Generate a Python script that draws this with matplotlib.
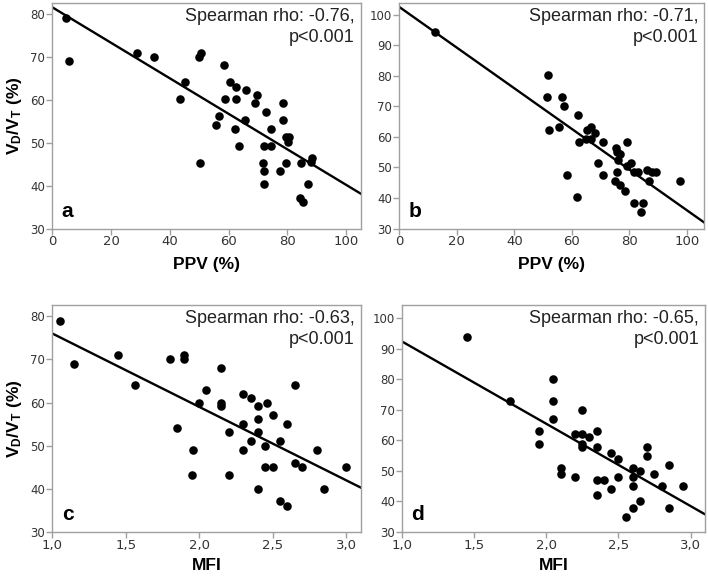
import numpy as np
import matplotlib
matplotlib.use('Agg')
import matplotlib.pyplot as plt
from matplotlib.ticker import FuncFormatter

plt.rcParams['mathtext.fontset'] = 'custom'
plt.rcParams['mathtext.bf'] = 'Liberation Sans:bold'
plt.rcParams['mathtext.rm'] = 'Liberation Sans'

# panel a: PPV vs VD/VT
ppv_a = [4.6, 5.7, 28.7, 34.7, 49.8, 50.6, 45.3, 43.6, 58.6, 60.5, 62.4, 58.8, 62.4, 65.9,
         69.7, 69.0, 72.8, 78.4, 78.7, 56.7, 55.9, 65.7, 62.1, 74.6, 63.7, 72.2, 74.3, 79.4,
         80.5, 80.2, 50.4, 71.7, 72.0, 72.2, 77.5, 79.5, 84.6, 88.0, 88.5, 86.9, 84.2, 85.3]
vdvt_a = [79.0, 69.0, 71.0, 70.0, 70.0, 71.0, 64.1, 60.2, 68.1, 64.1, 63.1, 60.2, 60.2, 62.2,
          61.2, 59.2, 57.2, 59.2, 55.2, 56.2, 54.2, 55.2, 53.2, 53.2, 49.2, 49.2, 49.2, 51.3,
          51.3, 50.2, 45.3, 45.3, 43.4, 40.4, 43.4, 45.3, 45.3, 45.4, 46.4, 40.4, 37.0, 36.2]

# panel b
ppv_b = [12.4, 51.8, 51.5, 56.7, 57.2, 62.3, 52.2, 55.7, 65.2, 66.8, 68.2, 62.6, 64.8, 66.6,
         70.7, 79.2, 75.4, 75.8, 76.8, 76.2, 69.1, 79.1, 80.5, 81.7, 82.9, 86.1, 88.0, 89.3,
         58.4, 71.0, 75.7, 75.2, 76.8, 78.4, 86.7, 97.7, 61.7, 81.7, 84.8, 84.1]
vdvt_b = [94.2, 80.2, 73.2, 73.2, 70.2, 67.3, 62.3, 63.2, 62.3, 63.2, 61.2, 58.3, 59.3, 59.3,
          58.3, 58.3, 56.3, 55.2, 54.3, 52.3, 51.3, 50.5, 51.4, 48.4, 48.4, 49.3, 48.4, 48.4,
          47.4, 47.4, 48.4, 45.4, 44.4, 42.4, 45.4, 45.4, 40.4, 38.4, 38.4, 35.4]

# panel c: MFI vs VD/VT
mfi_c = [1.05, 1.15, 1.45, 1.56, 1.80, 1.90, 1.90, 2.15, 2.05, 2.00, 2.15, 2.15, 1.85, 2.30,
         2.35, 2.40, 2.46, 2.50, 2.40, 2.30, 2.20, 2.40, 2.60, 2.65, 2.35, 2.45, 2.55, 1.96,
         2.30, 2.80, 2.45, 2.50, 2.65, 2.70, 3.00, 1.95, 2.20, 2.40, 2.85, 2.55, 2.60]
vdvt_c = [79.0, 69.0, 71.0, 64.0, 70.0, 71.0, 70.0, 68.0, 63.0, 60.0, 60.0, 59.1, 54.1, 62.0,
          61.0, 59.1, 60.0, 57.1, 56.1, 55.1, 53.1, 53.1, 55.1, 64.0, 51.1, 50.0, 51.1, 49.0,
          49.0, 49.0, 45.1, 45.1, 46.1, 45.1, 45.1, 43.1, 43.1, 40.0, 40.0, 37.1, 36.1]

# panel d
mfi_d = [1.45, 1.75, 2.05, 2.05, 2.05, 2.25, 1.95, 1.95, 2.20, 2.25, 2.30, 2.35, 2.25, 2.25,
         2.35, 2.45, 2.50, 2.70, 2.70, 2.10, 2.10, 2.20, 2.60, 2.65, 2.75, 2.85, 2.50, 2.60,
         2.35, 2.40, 2.60, 2.80, 2.95, 2.45, 2.35, 2.65, 2.60, 2.85, 2.55]
vdvt_d = [94.0, 73.0, 80.0, 73.0, 67.0, 70.0, 63.0, 59.0, 62.0, 62.0, 61.0, 63.0, 59.0, 58.0,
          58.0, 56.0, 54.0, 58.0, 55.0, 51.0, 49.0, 48.0, 51.0, 50.0, 49.0, 52.0, 48.0, 48.0,
          47.0, 47.0, 45.0, 45.0, 45.0, 44.0, 42.0, 40.0, 38.0, 38.0, 35.0]

# regression lines: (x0, value at x0, slope)
fit_a = (0.0, 81.6, -0.414)
fit_b = (0.0, 102.5, -0.665)
fit_c = (1.0, 76.0, -17.0)
fit_d = (1.0, 92.5, -27.0)

rho_text = ['Spearman rho: -0.76,\np<0.001', 'Spearman rho: -0.71,\np<0.001',
            'Spearman rho: -0.63,\np<0.001', 'Spearman rho: -0.65,\np<0.001']
letters = ['a', 'b', 'c', 'd']

W, H = 708, 580
fig = plt.figure(figsize=(W / 100, H / 100), dpi=100)

def px_axes(l, r, t, b):
    return fig.add_axes([l / W, 1 - b / H, (r - l) / W, (b - t) / H])

axs = [px_axes(52.3, 360.7, 3, 228.5), px_axes(399.3, 704, 3, 228.5),
       px_axes(52.3, 360.7, 305, 532), px_axes(401.7, 705, 305, 532)]

xs = [ppv_a, ppv_b, mfi_c, mfi_d]
ys = [vdvt_a, vdvt_b, vdvt_c, vdvt_d]
fits = [fit_a, fit_b, fit_c, fit_d]
xlims = [(0, 105), (0, 106), (1.0, 3.1), (1.0, 3.1)]
ylims = [(30, 82.6), (30, 103.8), (30, 82.6), (30, 104.4)]

for i, ax in enumerate(axs):
    ax.scatter(xs[i], ys[i], s=38, c='black', zorder=3, linewidths=0)
    x0, y0, k = fits[i]
    xl = np.array(xlims[i])
    ax.plot(xl, y0 + k * (xl - x0), color='black', lw=1.7, zorder=2)
    ax.set_xlim(xlims[i])
    ax.set_ylim(ylims[i])
    if i < 2:
        ax.set_xticks([0, 20, 40, 60, 80, 100])
        ax.set_xlabel('PPV (%)', fontsize=12.5, fontweight='bold', family='Liberation Sans', labelpad=6)
    else:
        ax.set_xticks([1.0, 1.5, 2.0, 2.5, 3.0])
        ax.xaxis.set_major_formatter(FuncFormatter(lambda v, p: ('%.1f' % v).replace('.', ',')))
        ax.set_xlabel('MFI', fontsize=12.5, fontweight='bold', family='Liberation Sans', labelpad=4)
    if i in (0, 2):
        ax.set_yticks([30, 40, 50, 60, 70, 80])
        ax.set_ylabel(r'$\mathbf{V_D/V_T}$ (%)', fontsize=12.5, fontweight='bold',
                      family='Liberation Sans', labelpad=5)
    else:
        ax.set_yticks([30, 40, 50, 60, 70, 80, 90, 100])
    for sp in ax.spines.values():
        sp.set_color('#a0a0a0')
        sp.set_linewidth(1.0)
    ax.tick_params(direction='out', length=4, width=1, color='#a0a0a0',
                   labelcolor='#333333', pad=1)
    ax.tick_params(axis='x', labelsize=9.5)
    ax.tick_params(axis='y', labelsize=8.5)
    ax.text(0.981, 0.978, rho_text[i], transform=ax.transAxes, ha='right', va='top',
            fontsize=13, family='Liberation Sans', color='#222222', linespacing=1.3)
    ax.text(0.031, 0.035, letters[i], transform=ax.transAxes, ha='left', va='bottom',
            fontsize=15, fontweight='bold', family='Liberation Sans')

fig.savefig('out.png', dpi=100)
